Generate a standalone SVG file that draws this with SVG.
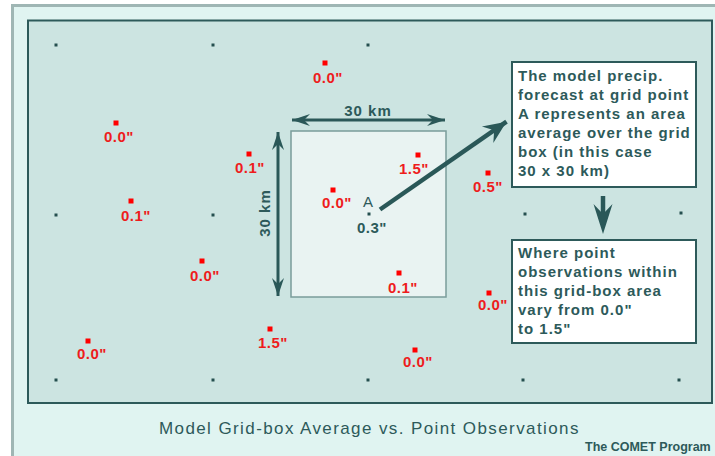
<svg xmlns="http://www.w3.org/2000/svg" width="715" height="456" viewBox="0 0 715 456">
<style>
.red{font-family:"Liberation Sans",Arial,sans-serif;font-size:15px;font-weight:bold;fill:#ee1c1c;text-anchor:middle;letter-spacing:0.5px}
.sq{fill:#ff0000}
.dot{fill:#244f4f}
.dark{font-family:"Liberation Sans",Arial,sans-serif;fill:#2d5a5a}
.box{fill:#ffffff;stroke:#2d5a5a;stroke-width:2}
.boxt{font-family:"Liberation Sans",Arial,sans-serif;font-size:15px;font-weight:bold;fill:#2d5a5a;letter-spacing:1px}
.dim{stroke:#2a5858;stroke-width:3;fill:none}
</style>
<defs>
<marker id="dh" markerUnits="userSpaceOnUse" viewBox="-20 -7 22 14" refX="0" refY="0" markerWidth="22" markerHeight="14" orient="auto-start-reverse">
<path d="M0,0 L-18,-6 L-12,0 L-18,6 Z" fill="#2a5858"/>
</marker>
<marker id="bh" markerUnits="userSpaceOnUse" viewBox="-26 -11 28 22" refX="0" refY="0" markerWidth="28" markerHeight="22" orient="auto">
<path d="M0,0 L-23,-10 L-15,0 L-23,10 Z" fill="#2a5858"/>
</marker>
</defs>
<rect x="0" y="0" width="715" height="456" fill="#ffffff"/>
<rect x="12.5" y="5.5" width="720" height="470" fill="#e0f4f1" stroke="#9fb6b4" stroke-width="3"/>
<rect id="panel" x="28" y="20.5" width="684" height="382.5" fill="#cce4e1" stroke="#2d5a5a" stroke-width="2"/>
<g id="gridbox">
<rect x="291" y="131" width="155" height="166" fill="#e9f3f2" stroke="#7a9c9a" stroke-width="1.5"/>
</g>
<g id="griddots">
<rect class="dot" x="54.5" y="43.5" width="3" height="3"/>
<rect class="dot" x="211.5" y="43.5" width="3" height="3"/>
<rect class="dot" x="366.5" y="43.5" width="3" height="3"/>
<rect class="dot" x="54.5" y="213.5" width="3" height="3"/>
<rect class="dot" x="211.5" y="213.5" width="3" height="3"/>
<rect class="dot" x="523.5" y="212.5" width="3" height="3"/>
<rect class="dot" x="679.5" y="211.5" width="3" height="3"/>
<rect class="dot" x="54.5" y="378.5" width="3" height="3"/>
<rect class="dot" x="211.5" y="378.5" width="3" height="3"/>
<rect class="dot" x="366.5" y="378.5" width="3" height="3"/>
<rect class="dot" x="521.5" y="378.5" width="3" height="3"/>
<rect class="dot" x="677.5" y="378.5" width="3" height="3"/>
</g>
<g id="pointA">
<rect class="dot" x="367.5" y="212.5" width="3" height="3"/>
<text class="dark" x="368" y="207" font-size="15" text-anchor="middle">A</text>
<text class="dark" x="372" y="233" font-size="15" font-weight="bold" text-anchor="middle" letter-spacing="0.5">0.3"</text>
</g>
<g id="obs1"><rect class="sq" x="322.5" y="60.5" width="5" height="5"/><text class="red" x="328" y="83">0.0"</text></g>
<g id="obs2"><rect class="sq" x="113.5" y="120.5" width="5" height="5"/><text class="red" x="119" y="142">0.0"</text></g>
<g id="obs3"><rect class="sq" x="246.5" y="151.5" width="5" height="5"/><text class="red" x="250" y="173">0.1"</text></g>
<g id="obs4"><rect class="sq" x="330.5" y="187.5" width="5" height="5"/><text class="red" x="337" y="208">0.0"</text></g>
<g id="obs5"><rect class="sq" x="128.5" y="198.5" width="5" height="5"/><text class="red" x="136" y="220.5">0.1"</text></g>
<g id="obs6"><rect class="sq" x="415.5" y="152.5" width="5" height="5"/><text class="red" x="414" y="174">1.5"</text></g>
<g id="obs7"><rect class="sq" x="485.5" y="170.5" width="5" height="5"/><text class="red" x="488" y="192">0.5"</text></g>
<g id="obs8"><rect class="sq" x="199.5" y="258.5" width="5" height="5"/><text class="red" x="205" y="281">0.0"</text></g>
<g id="obs9"><rect class="sq" x="267.5" y="326.5" width="5" height="5"/><text class="red" x="273" y="348">1.5"</text></g>
<g id="obs10"><rect class="sq" x="85.5" y="338.5" width="5" height="5"/><text class="red" x="92" y="359">0.0"</text></g>
<g id="obs11"><rect class="sq" x="396.5" y="270.5" width="5" height="5"/><text class="red" x="403" y="292.5">0.1"</text></g>
<g id="obs12"><rect class="sq" x="486.5" y="290.5" width="5" height="5"/><text class="red" x="493" y="310">0.0"</text></g>
<g id="obs13"><rect class="sq" x="412.5" y="347.5" width="5" height="5"/><text class="red" x="418" y="366.5">0.0"</text></g>
<g id="note1">
<rect class="box" x="512" y="62" width="184" height="125"/>
<text class="boxt" x="518" y="81">The model precip.</text>
<text class="boxt" x="518" y="100">forecast at grid point</text>
<text class="boxt" x="518" y="119">A represents an area</text>
<text class="boxt" x="518" y="138">average over the grid</text>
<text class="boxt" x="518" y="157">box (in this case</text>
<text class="boxt" x="518" y="176">30 x 30 km)</text>
</g>
<g id="note2">
<rect class="box" x="512" y="240" width="184" height="103"/>
<text class="boxt" x="518" y="258">Where point</text>
<text class="boxt" x="518" y="277">observations within</text>
<text class="boxt" x="518" y="296">this grid-box area</text>
<text class="boxt" x="518" y="315">vary from 0.0"</text>
<text class="boxt" x="518" y="334">to 1.5"</text>
</g>
<g id="connectors">
<line class="dim" x1="292" y1="120" x2="445" y2="120" marker-start="url(#dh)" marker-end="url(#dh)"/>
<line class="dim" x1="278" y1="132" x2="278" y2="296" marker-start="url(#dh)" marker-end="url(#dh)"/>
<line x1="380" y1="209.5" x2="506.5" y2="121.7" stroke="#2a5858" stroke-width="4.5" marker-end="url(#bh)"/>
<line x1="603" y1="196" x2="603" y2="216" stroke="#2a5858" stroke-width="4.5"/>
<path d="M603,234 L593.5,204 L603,214 L612.5,204 Z" fill="#2a5858"/>
</g>
<g id="dimlabels">
<text class="dark" x="368" y="115.5" font-size="15" font-weight="bold" text-anchor="middle" letter-spacing="1">30 km</text>
<text class="dark" transform="translate(269.5,213) rotate(-90)" font-size="15" font-weight="bold" text-anchor="middle" letter-spacing="1">30 km</text>
</g>
<text class="dark" x="159" y="434" font-size="17" letter-spacing="1.4">Model Grid-box Average vs. Point Observations</text>
<text class="dark" x="585" y="451" font-size="12.5" font-weight="bold">The COMET Program</text>
</svg>
